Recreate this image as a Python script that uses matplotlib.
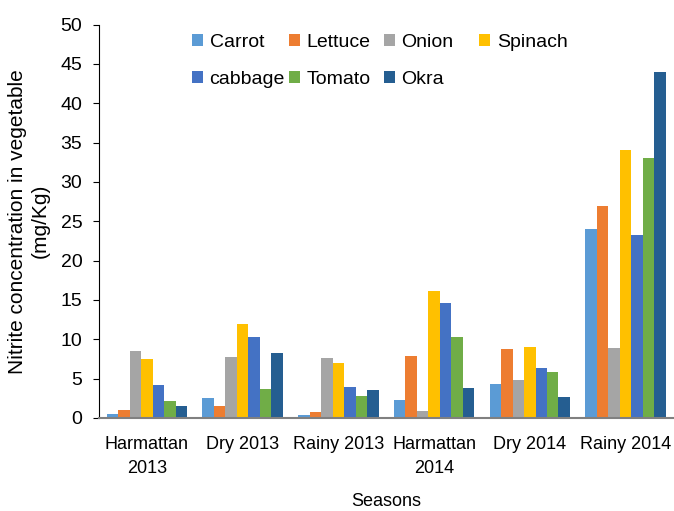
import numpy as np
import matplotlib
matplotlib.use('Agg')
import matplotlib.pyplot as plt
from matplotlib.legend import Legend

plt.rcParams['font.family'] = ['Liberation Sans', 'DejaVu Sans']

seasons = ['Harmattan\n2013', 'Dry 2013', 'Rainy 2013', 'Harmattan\n2014', 'Dry 2014', 'Rainy 2014']
vegetables = ['Carrot', 'Lettuce', 'Onion', 'Spinach', 'cabbage', 'Tomato', 'Okra']
carrot = [0.5, 2.6, 0.4, 2.3, 4.3, 24.0]
lettuce = [1.0, 1.5, 0.8, 7.9, 8.8, 27.0]
onion = [8.5, 7.8, 7.6, 0.9, 4.8, 8.9]
spinach = [7.5, 12.0, 7.0, 16.2, 9.0, 34.0]
cabbage = [4.2, 10.3, 4.0, 14.6, 6.3, 23.3]
tomato = [2.2, 3.7, 2.8, 10.3, 5.8, 33.1]
okra = [1.5, 8.3, 3.5, 3.8, 2.7, 44.0]

series = [carrot, lettuce, onion, spinach, cabbage, tomato, okra]
colors = ['#5B9BD5', '#ED7D31', '#A5A5A5', '#FFC000', '#4472C4', '#70AD47', '#255E91']

fig = plt.figure(figsize=(6.74, 5.11), dpi=100)
ax = fig.add_axes([0.147, 0.182, 0.852, 0.770])

x = np.arange(len(seasons))
width = 0.12
bars = []
for i, (vals, name, c) in enumerate(zip(series, vegetables, colors)):
    bars.append(ax.bar(x + (i - 3) * width, vals, width, color=c, label=name))

ax.set_xlim(-0.5, 5.5)
ax.set_ylim(0, 50)
ax.set_yticks(range(0, 51, 5))
ax.set_xticks(x)
ax.set_xticklabels(seasons, fontsize=13, linespacing=1.5)
ax.tick_params(axis='y', labelsize=14, length=4, direction='out', pad=8)
ax.tick_params(axis='x', length=0, pad=13)
ax.spines['top'].set_visible(False)
ax.spines['right'].set_visible(False)
ax.spines['bottom'].set_color('#808080')
ax.spines['bottom'].set_linewidth(1.5)
ax.spines['left'].set_color('#000000')

ax.set_xlabel('Seasons', fontsize=13, labelpad=12)
ax.set_ylabel('Nitrite concentration in vegetable\n(mg/Kg)', fontsize=15, labelpad=8)

# legend laid out like Excel: fixed-width columns, filled row by row
col_x = [0.162, 0.331, 0.496, 0.662]
for col in range(4):
    idx = [k for k in (col, col + 4) if k < len(vegetables)]
    leg = Legend(ax, [bars[k] for k in idx], [vegetables[k] for k in idx],
                 loc='upper left', bbox_to_anchor=(col_x[col], 0.977),
                 frameon=False, fontsize=14, borderpad=0, borderaxespad=0,
                 handlelength=0.55, handleheight=0.55, handletextpad=0.35,
                 labelspacing=1.05)
    ax.add_artist(leg)

fig.savefig('out.png', dpi=100)
